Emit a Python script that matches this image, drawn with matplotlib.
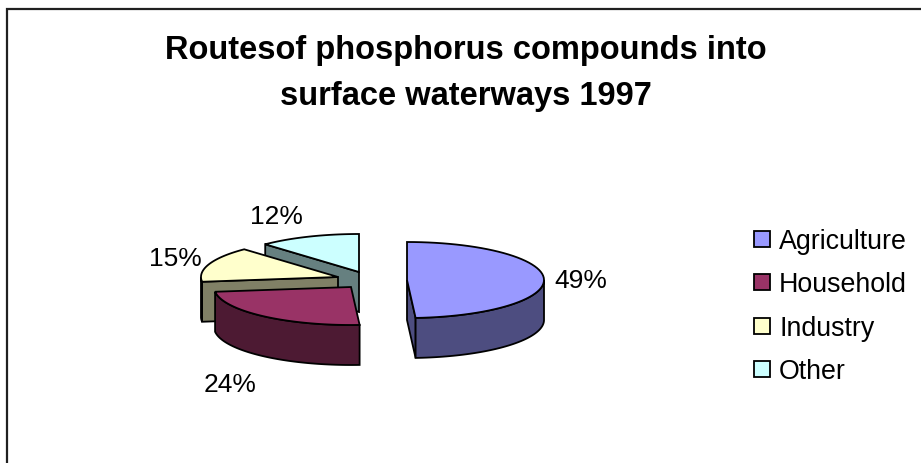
import numpy as np
import matplotlib
matplotlib.use('Agg')
import matplotlib.pyplot as plt
from matplotlib.patches import Polygon, Rectangle

plt.rcParams['font.family'] = ['Liberation Sans', 'DejaVu Sans']

labels = ['Agriculture', 'Household', 'Industry', 'Other']
values = [49, 24, 15, 12]
colors = ['#9999FF', '#993366', '#FFFFCC', '#CCFFFF']
dark = ['#4D4D80', '#4D1A33', '#808066', '#668080']
title_lines = ['Routesof phosphorus compounds into', 'surface waterways 1997']

# apex of each exploded slice, pixels
apex = [(407, 280), (351, 287), (338, 277), (359, 272)]
label_pos = [(581, 288), (230, 392), (175, 266), (276, 224)]
legend_y = [239, 282, 325.5, 369]
A, B, DEPTH = 137, 38, 40
LW = 1.3

fig = plt.figure(figsize=(9.21, 4.63), dpi=100)
ax = fig.add_axes([0, 0, 1, 1])
ax.set_xlim(0, 921)
ax.set_ylim(463, 0)
ax.axis('off')

# frame, only top and left reach the picture
ax.plot([970, 7, 7], [8.5, 8.5, 480], color='#202020', lw=1.6, solid_joinstyle='miter')


def arc(cx, cy, a0, a1):
    t = np.radians(np.linspace(a0, a1, 60))
    return np.column_stack([cx + A * np.sin(t), cy - B * np.cos(t)])


# angles clockwise from 12 o'clock
edges = np.concatenate([[0], np.cumsum(values)]) * 360 / sum(values)

for i in [3, 2, 1, 0]:
    a0, a1 = edges[i], edges[i + 1]
    cx, cy = apex[i]
    pts = arc(cx, cy, a0, a1)
    down = np.array([0, DEPTH])
    z = 5 - i
    # cut faces that look at the viewer
    if i == 0:
        ax.add_patch(Polygon([(cx, cy), pts[-1], pts[-1] + down, (cx, cy + DEPTH)],
                             fc=dark[i], ec='black', lw=LW, zorder=z))
    if i in (2, 3):
        ax.add_patch(Polygon([(cx, cy), pts[0], pts[0] + down, (cx, cy + DEPTH)],
                             fc=dark[i], ec='black', lw=LW, zorder=z))
    # outer rim, only front half shows
    lo, hi = max(a0, 90), min(a1, 270)
    if lo < hi:
        rim = arc(cx, cy, lo, hi)
        ax.add_patch(Polygon(np.vstack([rim, rim[::-1] + down]),
                             fc=dark[i], ec='black', lw=LW, zorder=z))
    ax.add_patch(Polygon(np.vstack([[(cx, cy)], pts]), fc=colors[i], ec='black',
                         lw=LW, joinstyle='miter', zorder=z))
    ax.text(label_pos[i][0], label_pos[i][1], f'{values[i]}%', fontsize=19,
            ha='center', va='baseline', color='black', zorder=10)

ax.text(466, 59, title_lines[0], fontsize=23.5, fontweight='bold', ha='center', va='baseline')
ax.text(466, 105, title_lines[1], fontsize=23.5, fontweight='bold', ha='center', va='baseline')

# legend
for name, c, y in zip(labels, colors, legend_y):
    ax.add_patch(Rectangle((753.5, y - 8), 16, 16, fc=c, ec='black', lw=1.3))
    ax.text(779, y + 10, name, fontsize=19.3, ha='left', va='baseline')

fig.savefig('out.png', dpi=100)
